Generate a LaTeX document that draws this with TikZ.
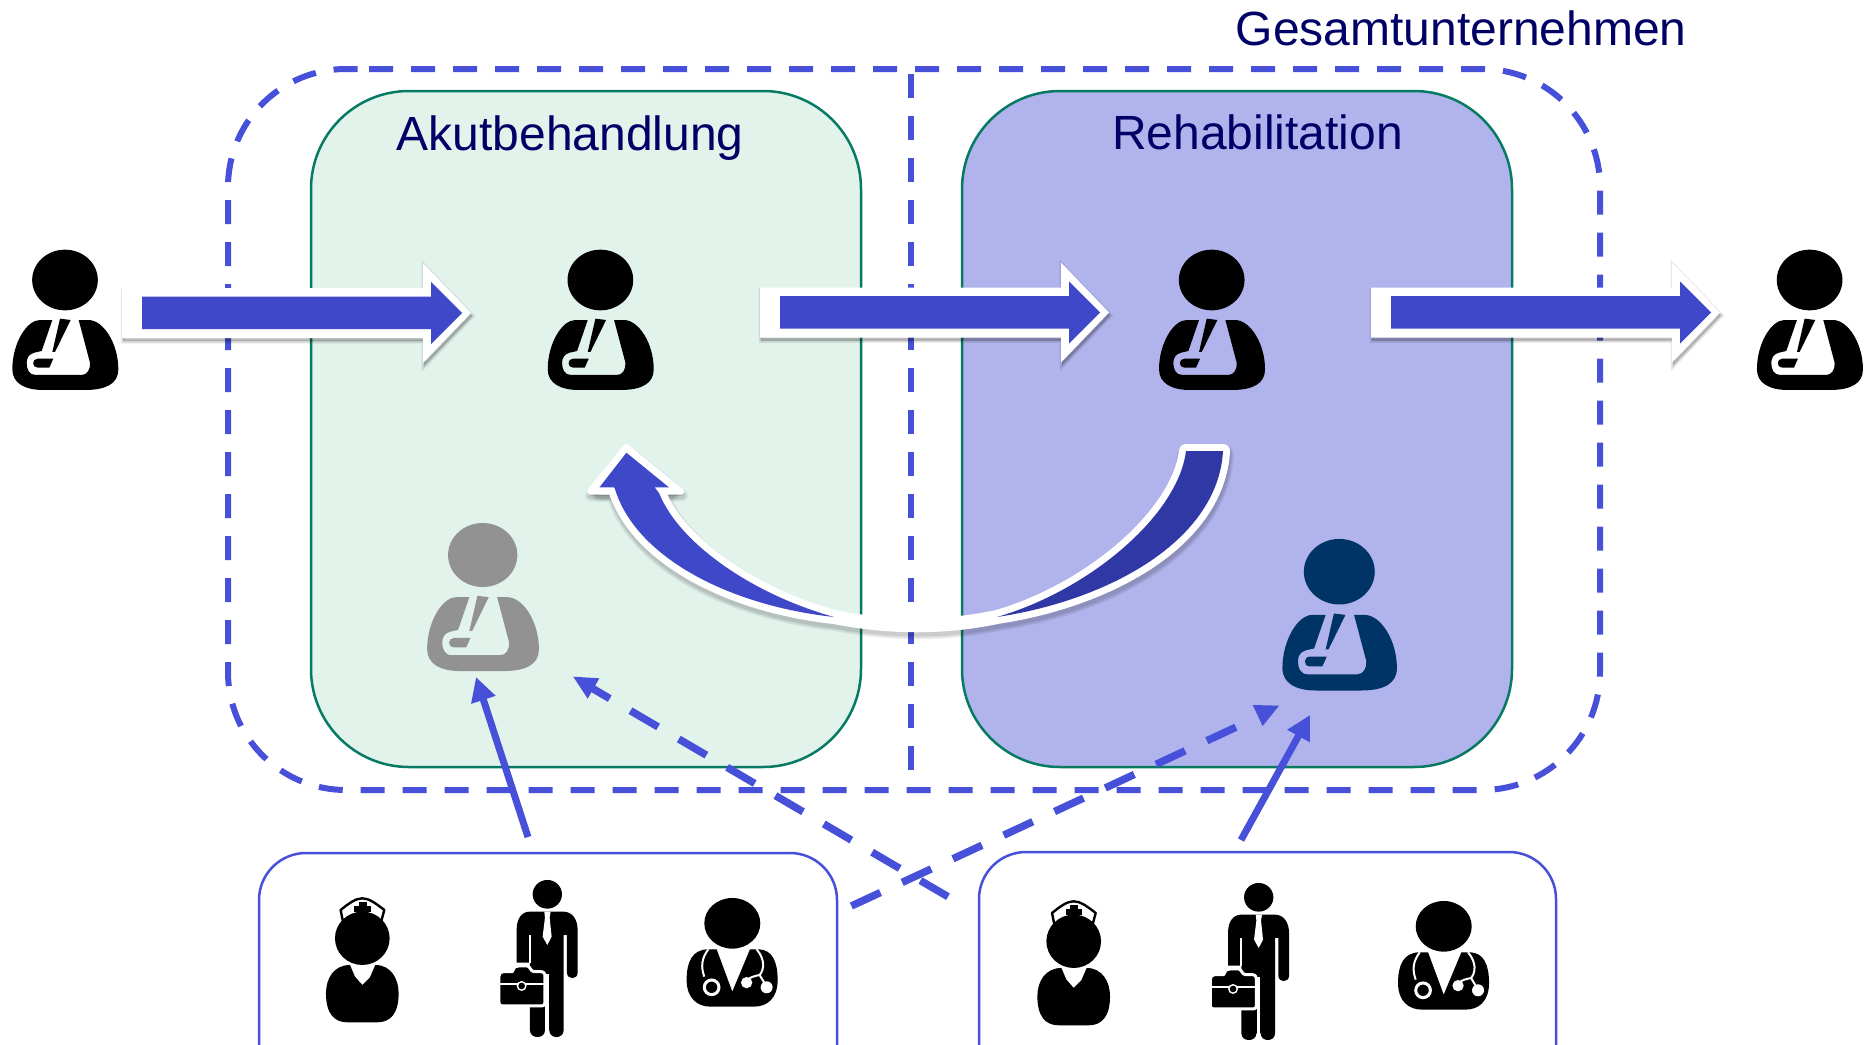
\documentclass[tikz,border=0pt]{standalone}
\usepackage{fontspec}
\setmainfont{Liberation Sans}
\usetikzlibrary{arrows.meta}
\definecolor{dashblue}{HTML}{4650D8}
\definecolor{arrowblue}{HTML}{3F48C8}
\definecolor{darkarrow}{HTML}{3038A6}
\definecolor{panelgreen}{HTML}{E2F3EC}
\definecolor{panelviolet}{HTML}{B1B3EC}
\definecolor{paneledge}{HTML}{067A62}
\definecolor{labelnavy}{HTML}{000066}
\definecolor{patientnavy}{HTML}{003366}
\definecolor{patientgrey}{HTML}{929292}
\tikzset{
  panel/.style={draw=paneledge,line width=2.5pt,rounded corners=98pt},
  staffbox/.style={draw=dashblue,line width=2.5pt,fill=white,rounded corners=47pt},
  scopedash/.style={draw=dashblue,line width=6pt,dash pattern=on 24pt off 18pt},
  solidlink/.style={draw=dashblue,line width=7pt,-{Triangle[length=24pt,width=24pt]}},
  dashlink/.style={draw=dashblue,line width=7.5pt,dash pattern=on 32pt off 24pt},
  heading/.style={text=labelnavy,inner sep=0pt,anchor=base west,font=\fontsize{48}{50}\selectfont},
  pics/patient/.style={code={
    \fill[#1] (0,0) ellipse [x radius=98.5,y radius=91];
    \fill[#1] (-38,120) -- (-70,213) -- (-92,218) .. controls (-108,222) and (-115,234) .. (-115,248)
      .. controls (-115,268) and (-108,285) .. (-88,285) -- (50,285)
      .. controls (66,285) and (77,268) .. (75,248) -- (41,120) -- (70,120)
      .. controls (115,120) and (160,190) .. (160,268)
      .. controls (160,310) and (125,330) .. (60,330) -- (-65,330)
      .. controls (-120,330) and (-158,310) .. (-158,268)
      .. controls (-158,190) and (-115,120) .. (-75,120) -- cycle;
    \fill[#1] (-15,116) -- (17,120) -- (-30,216) -- (-38,216) -- cycle;
    \fill[#1] (-82,236) -- (-35,236) -- (-47,263) -- (-82,263) .. controls (-100,263) and (-100,236) .. (-82,236) -- cycle;
  }},
  pics/nurse/.style={code={
    \draw[black,line width=2.4pt,line join=round] (-57,-45) -- (-65,-85) .. controls (-40,-105) and (-20,-120) .. (0,-120)
      .. controls (20,-120) and (40,-105) .. (66,-85) -- (56,-48);
    \draw[black,line width=2.4pt] (-57,-52) .. controls (-30,-72) and (30,-72) .. (56,-52);
    \fill[black] (-11,-110) rectangle (13,-65);
    \fill[black] (-24,-97) rectangle (26,-79);
    \fill[black] (0,0) ellipse [x radius=82,y radius=80];
    \fill[black] (-37,80) -- (-22,115) -- (0,140) -- (23,117) -- (39,80)
      .. controls (85,80) and (109,120) .. (109,165)
      .. controls (109,225) and (85,252) .. (45,252) -- (-45,252)
      .. controls (-85,252) and (-109,225) .. (-109,165)
      .. controls (-109,120) and (-85,80) .. (-37,80) -- cycle;
  }},
  pics/manager/.style={code={
    \fill[black] (0,0) ellipse [x radius=44,y radius=43];
    \fill[black] (-92,107) .. controls (-92,70) and (-75,52) .. (-52,52) -- (48,52)
      .. controls (75,52) and (91,75) .. (91,107) -- (91,235)
      .. controls (91,257) and (59,257) .. (59,235) -- (59,122) -- (49,122) -- (49,408)
      .. controls (49,435) and (6,435) .. (6,408) -- (-7,408)
      .. controls (-7,435) and (-52,435) .. (-52,408) -- (-52,205) -- (-92,205) -- cycle;
    \fill[white] (-9,52) -- (10,52) -- (7,70) -- (13,127) -- (0,152) -- (-14,127) -- (-7,70) -- cycle;
    \draw[white,line width=2pt] (-53,122) -- (-53,205);
    \draw[white,line width=3.4pt] (-1,240) -- (-1,430);
    \draw[white,line width=3pt,fill=black,line join=round]
      (-145,245) .. controls (-145,238) and (-140,232) .. (-132,232) -- (-105,232)
      .. controls (-98,215) and (-95,215) .. (-85,215) -- (-60,215)
      .. controls (-52,215) and (-50,232) .. (-40,232) -- (-20,232)
      .. controls (-10,232) and (-7,238) .. (-7,248) -- (-7,325)
      .. controls (-7,332) and (-10,335) .. (-17,335) -- (-135,335)
      .. controls (-142,335) and (-145,332) .. (-145,325) -- cycle;
    \draw[white,line width=1.8pt] (-145,269) -- (-7,269);
    \fill[white] (-77,275) circle (15);
    \fill[black] (-77,275) circle (10);
  }},
  pics/doctor/.style={code={
    \fill[black] (0,0) ellipse [x radius=84,y radius=76];
    \fill[black] (-47,78) -- (0,205) -- (53,78) -- (80,78)
      .. controls (120,80) and (136,115) .. (136,170)
      .. controls (136,225) and (105,250) .. (65,250) -- (-65,250)
      .. controls (-105,250) and (-137,225) .. (-137,170)
      .. controls (-137,115) and (-120,80) .. (-75,78) -- cycle;
    \draw[white,line width=2pt] (-72,78) .. controls (-92,105) and (-95,130) .. (-84,160);
    \draw[white,line width=3pt] (-62,192) circle (22);
    \draw[white,line width=2pt] (73,78) .. controls (100,110) and (95,140) .. (82,155) .. controls (70,158) and (55,160) .. (45,170);
    \draw[white,line width=2pt] (82,155) -- (103,190);
    \fill[white] (43,178) circle (17);
    \fill[white] (103,192) circle (18);
  }},
  pics/flowarrow/.style={code={
    \foreach \w in {5,3,0.5}{
      \path[draw=black,fill=black,opacity=.07,line width=\w pt,shift={(1,3)}]
        (-20,-25) -- (281,-25) -- (281,-50) -- (329,0) -- (281,50) -- (281,25) -- (-20,25) -- cycle;
    }
    \fill[white] (-20,-25) -- (281,-25) -- (281,-50) -- (329,0) -- (281,50) -- (281,25) -- (-20,25) -- cycle;
    \fill[arrowblue] (0,-16.5) -- (289,-16.5) -- (289,-31) -- (320,0) -- (289,31) -- (289,16) -- (0,16) -- cycle;
  }},
}
\def\returnoutline{(1186,451) .. controls (1178,515) and (1090,590) .. (997,617)
  .. controls (945,628) and (890,628) .. (834,617)
  .. controls (755,595) and (680,545) .. (659,493) -- (654.6,487.3) -- (668.9,487.3) -- (626.4,452.7) -- (599.5,487.3) -- (614,487.3)
  -- (615,489) .. controls (635,555) and (725,605) .. (834,617)
  .. controls (890,628) and (945,628) .. (997,617)
  .. controls (1110,600) and (1218,540) .. (1223,451) -- cycle}
\def\returnhead{(590,491.5) -- (626.4,447) -- (681,491.5) -- cycle}
\begin{document}
\begin{tikzpicture}[x=1pt,y=-1pt]
\useasboundingbox (0,0) rectangle (1868,1044);
\clip (0,0) rectangle (1868,1044);
% panels
\path[panel,fill=panelgreen] (311,91) rectangle (861,767);
\path[panel,fill=panelviolet] (962,91) rectangle (1512,767);
% company boundary
\path[scopedash,rounded corners=118pt] (369,69) -- (1600,69) -- (1600,790) -- (228,790) -- (228,69) -- (369,69);
\path[scopedash,dash phase=37pt] (911,69) -- (911,793);
% staff boxes
\path[staffbox] (259,853) rectangle (837,1120);
\path[staffbox] (979,852) rectangle (1556,1120);
% labels
\node[heading] (acute) at (396.5,150) {Akutbehandlung};
\node[heading] (rehab) at (1112,149) {Rehabilitation};
\node[heading] (whole) at (1235.5,45) {Gesamtunternehmen};
% patients
\pic (patientin) at (65,280) [scale=.3333] {patient=black};
\pic (patienta) at (600.4,280) [scale=.3333] {patient=black};
\pic (patientr) at (1211.7,280) [scale=.3333] {patient=black};
\pic (patientout) at (1809.6,280) [scale=.3333] {patient=black};
\pic (patientg) at (482.7,555) [scale=.3516] {patient=patientgrey};
\pic (patientn) at (1339.3,571.7) [scale=.36] {patient=patientnavy};
% staff
\pic (nursea) at (362.3,938.3) [scale=.3333] {nurse};
\pic (mana) at (547.3,894.3) [scale=.3333] {manager};
\pic (doca) at (732.3,923.3) [scale=.3333] {doctor};
\pic (nurseb) at (1073.7,941.3) [scale=.3333] {nurse};
\pic (manb) at (1258.7,897.3) [scale=.3333] {manager};
\pic (docb) at (1443.7,926.3) [scale=.3333] {doctor};
% influence links
\coordinate (solidAstart) at (528,837);
\coordinate (solidAtip) at (476,677);
\coordinate (solidBstart) at (1241,840);
\coordinate (solidBtip) at (1310,715);
\coordinate (dashAstart) at (851.4,906);
\coordinate (dashAend) at (1237,726.7);
\coordinate (dashBstart) at (948,896.7);
\coordinate (dashBend) at (590,687);
\path[solidlink] (solidAstart) -- (solidAtip);
\path[solidlink] (solidBstart) -- (solidBtip);
\path[dashlink] (dashAstart) -- (dashAend);
\path[dashlink] (dashBstart) -- (dashBend);
\fill[dashblue] (1252.7,705) -- (1279,705.7) -- (1262.6,726) -- cycle;
\fill[dashblue] (573.3,676.7) -- (599.3,678.3) -- (587.7,698.7) -- cycle;
% flow arrows
\pic (flowa) at (142,313) {flowarrow};
\pic (flowb) at (780,312.5) {flowarrow};
\pic (flowc) at (1391,312.5) {flowarrow};
% return arrow
\foreach \w in {20,17,14.5}{
  \path[draw=black,opacity=.07,line width=\w pt,line join=round,shift={(1,4)}] \returnoutline;
}
\foreach \w in {12,9,6.5}{
  \path[draw=black,fill=black,opacity=.06,line width=\w pt,line join=round,shift={(1,4)}] \returnhead;
}
\path[draw=white,fill=white,line width=14pt,line join=round] \returnoutline;
\path[draw=white,fill=white,line width=6pt,line join=round] \returnhead;
\fill[arrowblue] (834,617) .. controls (755,595) and (680,545) .. (659,493) -- (654.6,487.3) -- (668.9,487.3) -- (626.4,452.7) -- (599.5,487.3) -- (614,487.3)
  -- (615,489) .. controls (635,555) and (725,605) .. (834,617) -- cycle;
\fill[darkarrow] (1186,451) .. controls (1178,515) and (1090,590) .. (997,617)
  .. controls (1110,600) and (1218,540) .. (1223,451) -- cycle;
\end{tikzpicture}
\end{document}
